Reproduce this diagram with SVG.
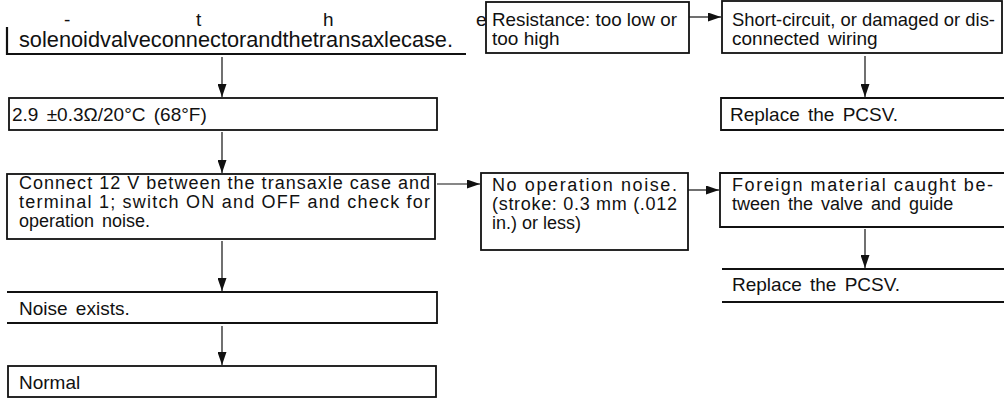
<svg xmlns="http://www.w3.org/2000/svg" width="1004" height="399" viewBox="0 0 1004 399">
<style>
text{font-family:"Liberation Sans",Arial,sans-serif;font-size:19px;fill:#111;}
.m{font-size:18px;}
.bx{fill:none;stroke:#111;stroke-width:1.8;}
.ln{stroke:#111;stroke-width:2.2;fill:none;}
.ar{stroke:#111;stroke-width:1.2;fill:none;marker-end:url(#ah);}
.ws{word-spacing:3px;}
</style>
<defs>
<marker id="ah" viewBox="0 0 13 9" refX="13" refY="4.5" markerWidth="13" markerHeight="9" markerUnits="userSpaceOnUse" orient="auto">
<path d="M0,0 L13,4.5 L0,9 Z" fill="#111"/>
</marker>
</defs>
<g id="connectors">
<line class="ar" x1="222" y1="57" x2="222" y2="97"/>
<line class="ar" x1="222" y1="132" x2="222" y2="173"/>
<line class="ar" x1="222" y1="241" x2="222" y2="291"/>
<line class="ar" x1="222" y1="326" x2="222" y2="365"/>
<line class="ar" x1="437" y1="184" x2="480" y2="184"/>
<line class="ar" x1="689" y1="17" x2="721" y2="17"/>
<line class="ar" x1="865" y1="56" x2="865" y2="97"/>
<line class="ar" x1="688" y1="190" x2="719" y2="190"/>
<line class="ar" x1="865" y1="229" x2="865" y2="268"/>
</g>
<g id="n_top">
<path class="ln" d="M7,27 V54 H466"/>
<text x="64" y="26">-</text>
<text x="196" y="26">t</text>
<text x="323" y="26">h</text>
<text x="476" y="26">e</text>
<text x="19" y="47" style="font-size:21.5px" textLength="434" lengthAdjust="spacingAndGlyphs">solenoidvalveconnectorandthetransaxlecase.</text>
</g>
<g id="n_spec">
<rect class="bx" x="9" y="98" width="428" height="32"/>
<text x="12" y="121" class="ws">2.9 ±0.3Ω/20°C (68°F)</text>
</g>
<g id="n_connect">
<rect class="bx" x="7" y="174" width="428" height="65"/>
<text class="m" x="19" y="189" textLength="411" lengthAdjust="spacing">Connect 12 V between the transaxle case and</text>
<text class="m" x="19" y="208" textLength="411" lengthAdjust="spacing">terminal 1; switch ON and OFF and check for</text>
<text class="m ws" x="19" y="227">operation noise.</text>
</g>
<g id="n_noise">
<path class="bx" d="M7,292 H437 V323 H7"/>
<text x="19" y="315" class="ws">Noise exists.</text>
</g>
<g id="n_normal">
<rect class="bx" x="8" y="366" width="428" height="31"/>
<text x="19" y="389">Normal</text>
</g>
<g id="n_resist">
<rect class="bx" x="486" y="2" width="203" height="51"/>
<text x="492" y="26" textLength="185" lengthAdjust="spacingAndGlyphs">Resistance: too low or</text>
<text x="492" y="45">too high</text>
</g>
<g id="n_short">
<rect class="bx" x="722" y="1" width="280" height="52"/>
<text x="732" y="26" textLength="263" lengthAdjust="spacingAndGlyphs">Short-circuit, or damaged or dis-</text>
<text x="732" y="45" class="ws">connected wiring</text>
</g>
<g id="n_replace1">
<path class="bx" d="M1004,98 H721 V130 H1004"/>
<text x="730" y="121" class="ws">Replace the PCSV.</text>
</g>
<g id="n_noop">
<rect class="bx" x="481" y="173" width="207" height="77"/>
<text class="m" x="492" y="191" textLength="185" lengthAdjust="spacing">No operation noise.</text>
<text class="m" x="492" y="210" textLength="185" lengthAdjust="spacing">(stroke: 0.3 mm (.012</text>
<text class="m" x="492" y="229">in.) or less)</text>
</g>
<g id="n_foreign">
<path class="bx" d="M1004,173 H720 V227 H1004"/>
<text class="m" x="732" y="191" textLength="261" lengthAdjust="spacing">Foreign material caught be-</text>
<text class="m ws" x="732" y="210">tween the valve and guide</text>
</g>
<g id="n_replace2">
<path class="bx" d="M1004,269 H722 M722,302 H1004"/>
<text x="732" y="291" class="ws">Replace the PCSV.</text>
</g>
</svg>
